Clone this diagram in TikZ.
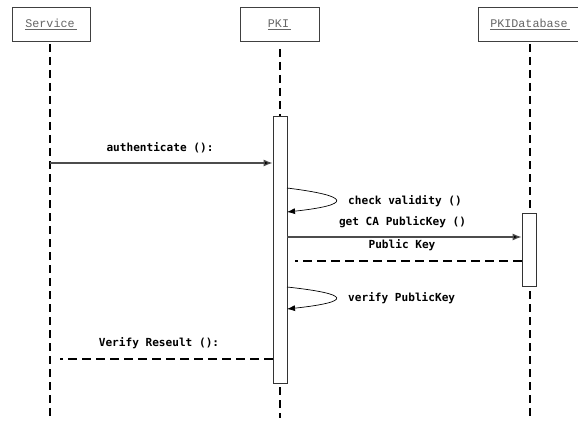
\documentclass[tikz,border=0pt]{standalone}
\usepackage{fontspec}
\setmonofont{Liberation Mono}
\newfontfamily\labelfont{DejaVu Sans Mono}
\usetikzlibrary{arrows.meta}
\tikzset{
  x=1pt, y=-1pt,
  objbox/.style={draw=black!75, line width=0.8pt, fill=white, minimum height=34pt,
    inner sep=0pt, font=\fontsize{11.7}{13}\selectfont\ttfamily, text=black!60},
  lifeline/.style={draw=black, line width=1.8pt, dash pattern=on 8pt off 5pt},
  act/.style={draw=black!80, line width=0.8pt, fill=white, minimum width=14pt, inner sep=0pt},
  msg/.style={draw=black!70, line width=1.2pt, -{Latex[length=9pt,width=7pt,fill=black]}},
  ret/.style={draw=black, line width=1.6pt, dash pattern=on 9pt off 5pt},
  selfmsg/.style={draw=black, line width=0.7pt, -{Latex[length=8pt,width=6pt]}},
  lbl/.style={font=\fontsize{11.1}{13}\selectfont\labelfont\bfseries, inner sep=0pt}
}
\newcommand{\ulname}[1]{\underline{#1\kern2pt}}
\begin{document}
\begin{tikzpicture}
\useasboundingbox (0,0) rectangle (578,425);
% object heads
\node[objbox, minimum width=78pt] (svc) at (51,24.5) {\ulname{Service}};
\node[objbox, minimum width=79pt] (pki) at (279.5,24.5) {\ulname{PKI}};
\node[objbox, minimum width=104pt] (db) at (530,24.5) {\ulname{PKIDatabase}};
% lifeline ends
\coordinate (svcEnd) at (50,416);
\coordinate (pkiEnd) at (280,418);
\coordinate (dbEnd) at (530,416);
\coordinate (svcTop) at (50,44);
\coordinate (pkiTop) at (280,49);
\coordinate (dbTop) at (530,44);
% lifelines
\draw[lifeline] (svcTop) -- (svcEnd);
\draw[lifeline] (pkiTop) -- (pkiEnd);
\draw[lifeline] (dbTop) -- (dbEnd);
% activation bars
\node[act, minimum height=267pt] (pkiact) at (280,249.5) {};
\node[act, minimum height=73pt] (dbact) at (529,249.5) {};
% authenticate
\coordinate (m1) at (50,163);
\draw[msg] (m1) -- (m1 -| pkiact.west);
\node[lbl] (l1) at (160,148) {authenticate ():};
% check validity
\coordinate (s1a) at (287,188);
\coordinate (s1b) at (287,212);
\draw[selfmsg] (s1a) .. controls (352,196) and (352,205) .. (s1b);
\node[lbl, anchor=west] (l2) at (348,201) {check validity ()};
% get CA PublicKey
\coordinate (m3) at (287,237);
\draw[msg] (m3) -- (m3 -| dbact.west);
\node[lbl] (l3) at (402.5,222) {get CA PublicKey ()};
% Public Key return
\coordinate (r1) at (295,261);
\draw[ret] (r1 -| dbact.west) -- (r1);
\node[lbl] (l4) at (402,245) {Public Key};
% verify PublicKey
\coordinate (s2a) at (287,287);
\coordinate (s2b) at (287,309);
\draw[selfmsg] (s2a) .. controls (352,294) and (352,302) .. (s2b);
\node[lbl, anchor=west] (l5) at (348,298) {verify PublicKey};
% Verify result return
\coordinate (r2) at (60,359);
\draw[ret] (r2 -| pkiact.west) -- (r2);
\node[lbl] (l6) at (159,343) {Verify Reseult ():};
\end{tikzpicture}
\end{document}
